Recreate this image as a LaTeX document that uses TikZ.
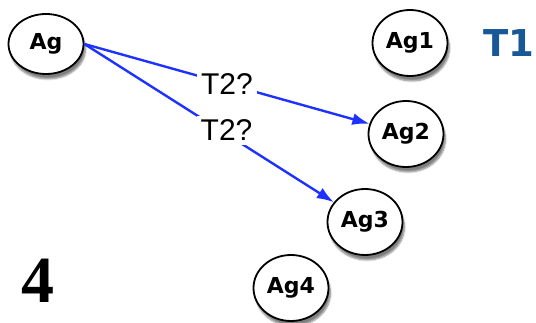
\documentclass[tikz,border=0pt]{standalone}
\usepackage{fontspec}
\setsansfont{DejaVu Sans}
\newfontfamily\helv{Liberation Sans}
\newfontfamily\tms{Liberation Serif}
\usetikzlibrary{shapes.geometric,arrows.meta,shadows.blur}
\definecolor{taskblue}{RGB}{24,88,150}
\definecolor{linkblue}{RGB}{30,50,255}
\tikzset{agent/.style={ellipse,draw,line width=1.8pt,fill=white,minimum width=75pt,minimum height=66pt,inner sep=0pt,
    font=\sffamily\bfseries\fontsize{22}{22}\selectfont,
    blur shadow={shadow xshift=2pt,shadow yshift=-5pt,shadow blur steps=6,shadow opacity=50}},
  offer/.style={draw=linkblue,line width=2.4pt,-{Latex[length=17pt,width=12pt]}},
  ask/.style={fill=white,inner sep=4pt,font=\helv\fontsize{30}{30}\selectfont}}

\begin{document}
\begin{tikzpicture}[x=1pt,y=-1pt]
\useasboundingbox (0,0) rectangle (536,323);
      \node[agent,minimum height=60pt] (ag) at (46,44) {Ag};
      \node[agent] (ag1) at (410,43) {Ag1};
      \node[agent] (ag2) at (406,134) {Ag2};
      \node[agent] (ag3) at (365,222) {Ag3};
      \node[agent] (ag4) at (291,288) {Ag4};
      \node[text=taskblue,font=\sffamily\bfseries\fontsize{37}{37}\selectfont] (t1) at (509,43) {T1};
      \node[font=\tms\bfseries\fontsize{66}{66}\selectfont] (round) at (38,281) {4};

\foreach \a/\p/\s in {ag2/0.5/0,ag3/0.57/4}
  \draw[offer] (ag.east) -- node[ask,pos=\p,yshift=\s pt] {T2?} (\a);
    \end{tikzpicture}
\end{document}
